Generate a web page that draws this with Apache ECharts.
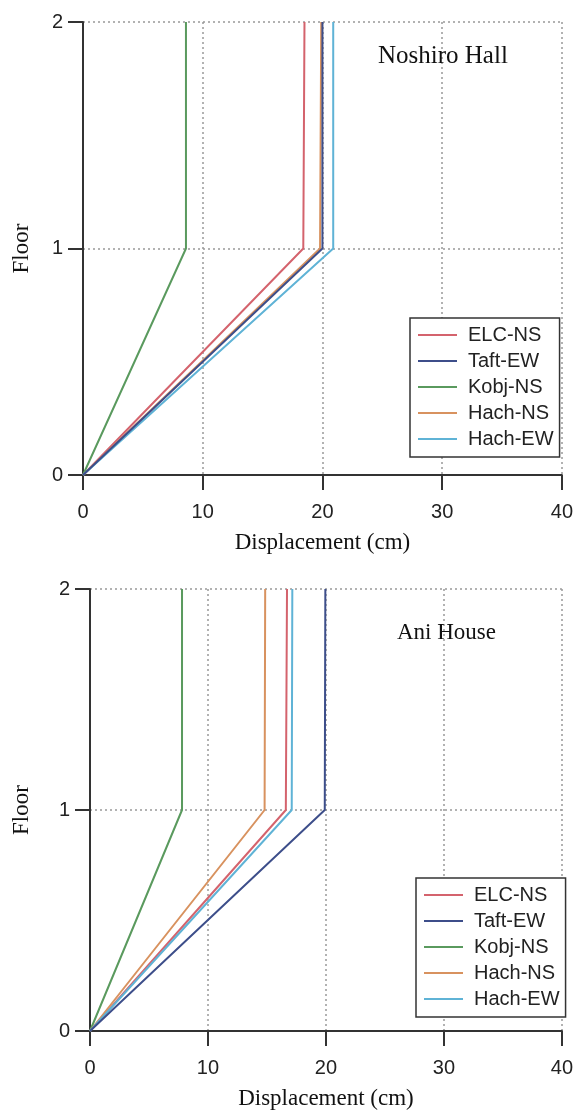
<!DOCTYPE html>
<html>
<head>
<meta charset="utf-8">
<script src="https://cdn.jsdelivr.net/npm/echarts@6/dist/echarts.min.js"></script>
<style>html,body{margin:0;padding:0;background:#fff;}#c{width:576px;height:1111px;}</style>
</head>
<body>
<div id="c"></div>
<script>
// ---- Data ----
const floors = [0, 1, 2];
const seriesNames = ['ELC-NS', 'Taft-EW', 'Kobj-NS', 'Hach-NS', 'Hach-EW'];
const xTicks = [0, 10, 20, 30, 40];
const yTicks = [0, 1, 2];
const chartTitles = ['Noshiro Hall', 'Ani House'];

// Noshiro Hall (displacement in cm at floors 0,1,2)
const noshiroELC  = [0, 18.4, 18.5];
const noshiroTaft = [0, 20.0, 20.0];
const noshiroKobj = [0, 8.6, 8.6];
const noshiroHachNS = [0, 19.8, 19.9];
const noshiroHachEW = [0, 20.9, 20.9];

// Ani House
const aniELC  = [0, 16.6, 16.7];
const aniTaft = [0, 19.9, 19.95];
const aniKobj = [0, 7.8, 7.8];
const aniHachNS = [0, 14.8, 14.85];
const aniHachEW = [0, 17.1, 17.15];

const colors = ['#d4636d', '#3d4e8a', '#5a9a5e', '#d8925f', '#5fb3d6'];

const noshiro = [noshiroELC, noshiroTaft, noshiroKobj, noshiroHachNS, noshiroHachEW];
const ani = [aniELC, aniTaft, aniKobj, aniHachNS, aniHachEW];

const chart = echarts.init(document.getElementById('c'), null, {renderer: 'canvas'});

function pairs(vals) { return vals.map((v, i) => [v, floors[i]]); }

function makeX(idx) {
  return {
    gridIndex: idx, type: 'value', min: xTicks[0], max: xTicks[xTicks.length - 1], interval: 10,
    name: 'Displacement (cm)', nameLocation: 'middle', nameGap: 56,
    nameTextStyle: {fontFamily: 'Liberation Serif', fontSize: 23, color: '#111'},
    axisLine: {show: true, lineStyle: {color: '#333', width: 2}},
    axisTick: {show: true, length: 15, lineStyle: {color: '#333', width: 2}},
    axisLabel: {fontFamily: 'Liberation Sans', fontSize: 20, color: '#222', margin: 27},
    splitLine: {show: true, lineStyle: {color: '#999', width: 1.5, type: [2, 3]}}
  };
}
function makeY(idx, gap) {
  return {
    gridIndex: idx, type: 'value', min: yTicks[0], max: yTicks[yTicks.length - 1], interval: 1,
    name: 'Floor', nameLocation: 'middle', nameGap: gap, nameRotate: 90,
    nameTextStyle: {fontFamily: 'Liberation Serif', fontSize: 23, color: '#111'},
    axisLine: {show: true, lineStyle: {color: '#333', width: 2}},
    axisTick: {show: true, length: 15, lineStyle: {color: '#333', width: 2}},
    axisLabel: {fontFamily: 'Liberation Sans', fontSize: 20, color: '#222', margin: 20},
    splitLine: {show: true, lineStyle: {color: '#999', width: 1.5, type: [2, 3]}}
  };
}
function makeLegend(left, top) {
  return {
    orient: 'vertical', left: left, top: top,
    data: seriesNames, icon: 'rect', itemWidth: 39, itemHeight: 2, itemGap: 6,
    padding: [7, 6, 8, 8], backgroundColor: '#fff', borderColor: '#333', borderWidth: 1.5,
    selectedMode: false,
    textStyle: {fontFamily: 'Liberation Sans', fontSize: 20, lineHeight: 20, color: '#222', padding: [0, 0, 0, 6]}
  };
}

const series = [];
[noshiro, ani].forEach((set, g) => {
  set.forEach((vals, i) => {
    series.push({
      name: seriesNames[i], type: 'line', xAxisIndex: g, yAxisIndex: g,
      data: pairs(vals), symbol: 'none', showSymbol: false,
      z: i === 1 ? 4 : 3,
      lineStyle: {color: colors[i], width: 2}, itemStyle: {color: colors[i]}
    });
  });
});

chart.setOption({
  animation: false,
  color: colors,
  title: [
    {text: chartTitles[0], left: 378, top: 44, padding: 0,
     textStyle: {fontFamily: 'Liberation Serif', fontSize: 25, fontWeight: 'normal', color: '#111'}},
    {text: chartTitles[1], left: 397, top: 621, padding: 0,
     textStyle: {fontFamily: 'Liberation Serif', fontSize: 23, fontWeight: 'normal', color: '#111'}}
  ],
  grid: [
    {left: 83, width: 480, top: 22, height: 453},
    {left: 90, width: 474, top: 589, height: 442}
  ],
  legend: [makeLegend(410, 318), makeLegend(416, 878)],
  xAxis: [makeX(0), makeX(1)],
  yAxis: [makeY(0, 50), makeY(1, 57)],
  series: series
});
</script>
</body>
</html>
